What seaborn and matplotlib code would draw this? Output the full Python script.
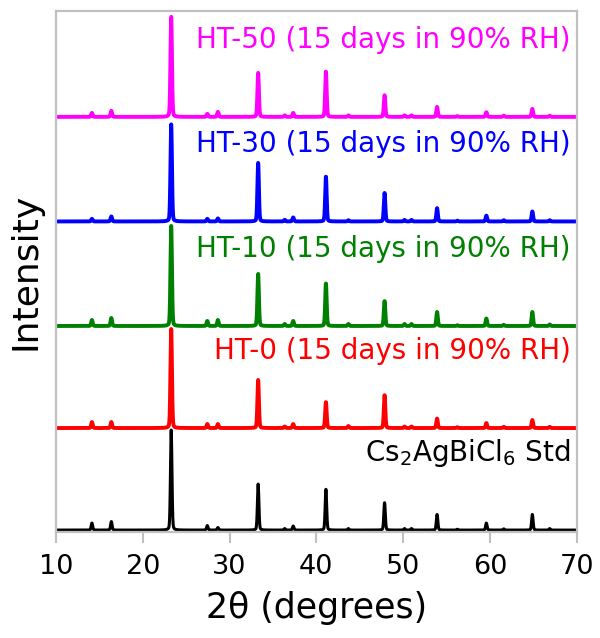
import numpy as np
import pandas as pd
import matplotlib
matplotlib.use("Agg")
import matplotlib.pyplot as plt
import seaborn as sns

# Reflection positions (2-theta, degrees) shared by all patterns
peak_pos = [14.14, 16.38, 23.28, 27.44, 28.66, 33.30, 36.36, 37.34, 41.11, 43.70,
            47.87, 50.17, 50.97, 53.92, 56.26, 59.60, 61.60, 64.90, 66.90]

# Peak intensities (a.u.) for each sample
std_int   = [7.0, 8.5, 100, 4.5, 2.5, 46, 1.5, 4.0, 41, 1.5, 27.5, 1.5, 1.5, 15.6, 0.8, 7.0, 1.2, 15.6, 1.5]
ht0_int   = [6.0, 6.0, 99, 4.0, 4.0, 48, 1.5, 4.0, 26, 2.0, 33, 1.5, 1.5, 9.5, 0.8, 5.0, 1.2, 8.0, 1.2]
ht10_int  = [6.0, 8.0, 100, 5.0, 6.0, 52, 2.0, 5.0, 42.7, 2.0, 25, 2.0, 2.0, 14, 0.8, 7.5, 1.2, 14, 1.5]
ht30_int  = [2.6, 5.0, 97, 2.6, 3.0, 58.5, 1.6, 4.0, 45, 1.2, 28.6, 1.5, 1.5, 13.3, 0.8, 5.8, 1.2, 10, 1.2]
ht50_int  = [4.0, 6.0, 100, 3.0, 5.0, 44, 1.5, 4.0, 45.5, 1.5, 21.7, 1.5, 1.5, 10, 0.8, 4.7, 1.2, 8.0, 1.2]

sample_names = ["Std", "HT-0", "HT-10", "HT-30", "HT-50"]
sample_ints = [std_int, ht0_int, ht10_int, ht30_int, ht50_int]
offsets = [0, 102, 204, 308.5, 413]
colors = ["#000000", "#ff0000", "#008000", "#0000ff", "#ff00ff"]
labels = [r"Cs$_2$AgBiCl$_6$ Std",
          "HT-0 (15 days in 90% RH)",
          "HT-10 (15 days in 90% RH)",
          "HT-30 (15 days in 90% RH)",
          "HT-50 (15 days in 90% RH)"]

two_theta = np.arange(10.0, 70.0 + 1e-9, 0.02)
fwhm = 0.2


def pattern(intensities):
    y = np.zeros_like(two_theta)
    g = fwhm / 2.0
    for p, h in zip(peak_pos, intensities):
        lor = 1.0 / (1.0 + ((two_theta - p) / g) ** 2)
        gau = np.exp(-np.log(2) * ((two_theta - p) / g) ** 2)
        y += h * (0.2 * lor + 0.8 * gau)
    return y


frames = []
for name, ints, off in zip(sample_names, sample_ints, offsets):
    frames.append(pd.DataFrame({"2theta": two_theta,
                                "intensity": pattern(ints) + off,
                                "sample": name}))
df = pd.concat(frames, ignore_index=True)

sns.set_theme(style="white")
plt.rcParams["font.family"] = ["DejaVu Sans"]
plt.rcParams["text.color"] = "black"
plt.rcParams["axes.labelcolor"] = "black"

fig = plt.figure(figsize=(6.0, 6.38), dpi=100)
ax = fig.add_axes([0.0933, 0.166, 0.8677, 0.817])

for name, col in zip(sample_names, colors):
    sub = df[df["sample"] == name]
    sns.lineplot(data=sub, x="2theta", y="intensity", color=col,
                 lw=2.2 if name == "Std" else 2.8, ax=ax, legend=False,
                 estimator=None, sort=False)

for lab, off, col in zip(labels, offsets, colors):
    ax.text(69.3, off + 77, lab, color=col, fontsize=20, ha="right", va="center")

ax.set_xlim(10, 70)
ax.set_ylim(-2, 519)
ax.set_xticks(np.arange(10, 71, 10))
ax.set_yticks([])
ax.set_xlabel("2θ (degrees)", fontsize=25, labelpad=8)
ax.set_ylabel("Intensity", fontsize=26, labelpad=10)
ax.tick_params(axis="x", which="major", direction="out", length=8, width=1.5,
               color="#c0c0c0", labelcolor="black", labelsize=19.5, pad=8, bottom=True)
for s in ax.spines.values():
    s.set_color("#c0c0c0")
    s.set_linewidth(1.6)
    s.set_visible(True)

fig.savefig("out.png", dpi=100)
